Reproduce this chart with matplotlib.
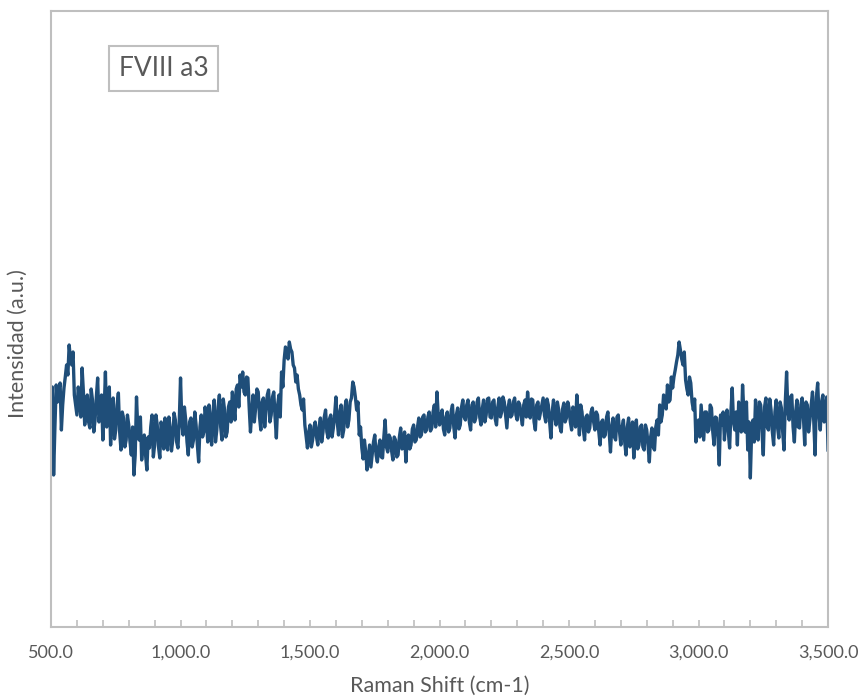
import matplotlib
matplotlib.use('Agg')
import matplotlib.pyplot as plt
import numpy as np

plt.rcParams['font.family'] = ['Lato', 'DejaVu Sans']

# Raman shift, 500-3500 cm-1, step 5
shift = np.arange(500, 3501, 5)

# readings at 500, 510, ... 3500
intensity_even = [
    207, 152, 242, 237, 197, 239, 262, 282, 262, 232,   # 500
    212, 229, 259, 202, 232, 199, 227, 207, 249, 215,   # 600
    187, 255, 222, 182, 229, 197, 234, 177, 209, 187,   # 700
    202, 172, 152, 230, 187, 167, 192, 157, 179, 212,   # 800
    182, 202, 169, 197, 209, 177, 199, 187, 207, 179,   # 900
    249, 192, 207, 172, 209, 187, 202, 165, 212, 195,   # 1000
    207, 222, 182, 227, 197, 232, 187, 217, 195, 225,   # 1100
    235, 207, 242, 252, 255, 232, 249, 195, 232, 219,   # 1200
    235, 197, 229, 217, 237, 212, 235, 189, 232, 255,   # 1300
    267, 277, 285, 275, 259, 252, 232, 217, 202, 179,   # 1400
    202, 187, 205, 182, 209, 195, 217, 189, 212, 199,   # 1500
    230, 192, 222, 197, 227, 207, 229, 240, 217, 192,   # 1600
    179, 187, 157, 182, 172, 192, 165, 187, 169, 207,   # 1700
    175, 189, 167, 187, 172, 199, 179, 165, 192, 182,   # 1800
    202, 187, 209, 192, 212, 197, 215, 199, 222, 235,   # 1900
    202, 217, 192, 215, 199, 222, 189, 219, 202, 227,   # 2000
    207, 227, 197, 225, 209, 229, 202, 227, 212, 229,   # 2100
    209, 227, 202, 229, 215, 225, 199, 227, 212, 229,   # 2200
    207, 222, 202, 227, 235, 209, 227, 197, 225, 215,   # 2300
    229, 205, 222, 189, 227, 202, 217, 195, 224, 209,   # 2400
    219, 197, 217, 232, 192, 215, 187, 212, 199, 219,   # 2500
    197, 212, 182, 207, 192, 215, 175, 209, 187, 212,   # 2600
    182, 207, 172, 209, 187, 169, 207, 182, 202, 177,   # 2700
    197, 165, 199, 177, 207, 222, 212, 229, 242, 227,   # 2800
    239, 257, 272, 277, 262, 247, 232, 244, 217, 185,   # 2900
    207, 222, 187, 215, 197, 219, 182, 209, 162, 202,   # 3000
    187, 217, 179, 239, 197, 182, 215, 242, 195, 177,   # 3100
    149, 207, 227, 187, 222, 172, 229, 197, 217, 182,   # 3200
    227, 189, 219, 177, 255, 207, 232, 185, 227, 199,   # 3300
    229, 182, 222, 207, 235, 172, 244, 197, 232, 215,   # 3400
    177,                                                # 3500
]

# readings at 505, 515, ... 3495
intensity_odd = [
    240, 200, 225, 244, 222, 250, 252, 268, 275, 222,   # 500
    240, 210, 235, 215, 205, 238, 195, 230, 205, 232,   # 600
    215, 200, 240, 215, 188, 222, 195, 215, 180, 212,   # 700
    185, 200, 172, 198, 210, 185, 172, 190, 200, 170,   # 800
    212, 180, 205, 178, 190, 210, 176, 214, 185, 205,   # 900
    205, 220, 185, 205, 180, 215, 182, 200, 190, 220,   # 1000
    185, 200, 215, 185, 220, 200, 228, 190, 220, 205,   # 1100
    222, 238, 220, 240, 235, 250, 220, 215, 205, 238,   # 1200
    210, 225, 200, 232, 205, 230, 210, 222, 210, 240,   # 1300
    280, 268, 278, 262, 245, 238, 222, 228, 190, 195,   # 1400
    180, 200, 190, 200, 185, 210, 195, 208, 190, 212,   # 1500
    205, 215, 190, 220, 200, 225, 245, 230, 225, 200,   # 1600
    168, 175, 170, 160, 185, 172, 180, 170, 190, 180,   # 1700
    192, 176, 190, 170, 190, 178, 195, 188, 178, 198,   # 1800
    185, 200, 190, 210, 195, 210, 196, 215, 200, 212,   # 1900
    212, 198, 210, 195, 216, 200, 212, 198, 220, 210,   # 2000
    222, 205, 222, 205, 225, 210, 218, 205, 228, 210,   # 2100
    225, 208, 220, 210, 230, 212, 220, 210, 225, 212,   # 2200
    225, 210, 222, 210, 220, 228, 205, 222, 208, 222,   # 2300
    212, 228, 205, 215, 210, 225, 200, 218, 205, 225,   # 2400
    205, 220, 200, 215, 222, 198, 210, 195, 215, 205,   # 2500
    215, 195, 205, 190, 210, 195, 200, 190, 210, 195,   # 2600
    200, 185, 200, 180, 205, 195, 178, 200, 180, 202,   # 2700
    182, 190, 180, 200, 192, 205, 232, 218, 225, 250,   # 2800
    250, 265, 285, 268, 275, 238, 250, 225, 228, 200,   # 2900
    190, 205, 215, 195, 222, 195, 210, 190, 212, 215,   # 3000
    210, 195, 215, 205, 215, 225, 195, 215, 225, 205,   # 3100
    195, 185, 205, 225, 195, 220, 200, 228, 195, 215,   # 3200
    200, 225, 195, 225, 215, 230, 200, 215, 200, 222,   # 3300
    210, 225, 195, 222, 205, 230, 212, 225, 205, 230,   # 3400
]

intensity = np.empty(len(shift))
intensity[0::2] = intensity_even
intensity[1::2] = intensity_odd

x_major = np.arange(500, 3501, 500)
x_minor = np.arange(500, 3501, 100)
x_labels = ['{:,.1f}'.format(v) for v in x_major]

grey = '#BFBFBF'
text_col = '#595959'

fig = plt.figure(figsize=(8.62, 7.0), dpi=100)
ax = fig.add_axes([0.0592, 0.1043, 0.9014, 0.88])

ax.plot(shift, intensity, color='#1F4E79', linewidth=2.4, solid_joinstyle='round')

ax.set_xlim(500, 3500)
ax.set_ylim(0, 616)

ax.set_xticks(x_major)
ax.set_xticklabels(x_labels)
ax.set_xticks(x_minor, minor=True)
ax.set_yticks([])
ax.tick_params(axis='x', which='both', direction='in', length=5, width=1.2,
               color=grey, labelsize=13, labelcolor=text_col, pad=13)

for side in ['left', 'right', 'top', 'bottom']:
    ax.spines[side].set_color(grey)
    ax.spines[side].set_linewidth(1.5)

ax.set_xlabel('Raman Shift (cm-1)', fontsize=15.5, color=text_col, labelpad=11)
ax.set_ylabel('Intensidad (a.u.)', fontsize=15.5, color=text_col)
ax.yaxis.set_label_coords(-0.03, 0.46)

ax.text(0.1448, 0.9067, 'FVIII a3', transform=ax.transAxes, ha='center', va='center',
        fontsize=19, color=text_col,
        bbox=dict(boxstyle='square,pad=0.38', facecolor='white', edgecolor=grey, linewidth=1.5))

fig.savefig('out.png', dpi=100)
